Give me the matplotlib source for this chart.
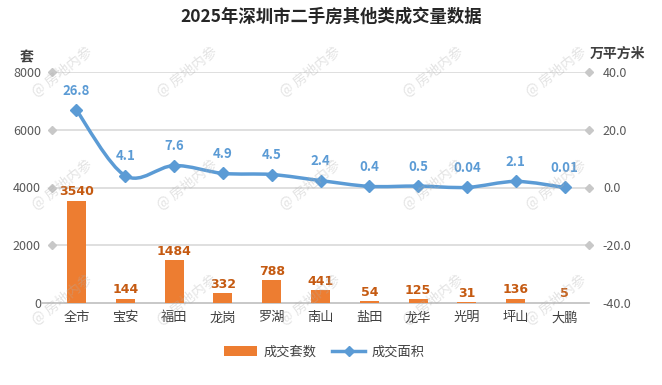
import numpy as np
import matplotlib.pyplot as plt
from matplotlib.path import Path
from matplotlib.patches import PathPatch
from matplotlib.lines import Line2D
from matplotlib.patches import Patch

plt.rcParams['font.family'] = ['Noto Sans CJK SC', 'DejaVu Sans']

districts = ['全市', '宝安', '福田', '龙岗', '罗湖', '南山', '盐田', '龙华', '光明', '坪山', '大鹏']
units = [3540, 144, 1484, 332, 788, 441, 54, 125, 31, 136, 5]
area = [26.8, 4.1, 7.6, 4.9, 4.5, 2.4, 0.4, 0.5, 0.04, 2.1, 0.01]
area_labels = ['26.8', '4.1', '7.6', '4.9', '4.5', '2.4', '0.4', '0.5', '0.04', '2.1', '0.01']
left_ticks = [0, 2000, 4000, 6000, 8000]
right_ticks = [-40, -20, 0, 20, 40]

bar_color = '#ED7D31'
bar_text = '#C55A11'
line_color = '#5B9BD5'
grid_color = '#D9D9D9'
tick_color = '#595959'

fig = plt.figure(figsize=(6.62, 3.85), dpi=100)
ax = fig.add_axes([52 / 662, 1 - 303 / 385, 537 / 662, 231 / 385])
ax2 = ax.twinx()

x = np.arange(len(districts))

# gridlines with diamond ends
for v in left_ticks[1:]:
    ax.axhline(v, color=grid_color, linewidth=1.2, zorder=0)
    ax.plot([-0.5, 10.5], [v, v], linestyle='none', marker='D', markersize=4.5,
            color='#C8C8C8', clip_on=False, zorder=1)
ax.axhline(0, color='#BFBFBF', linewidth=1.2, xmin=-0.018, xmax=1.0, clip_on=False, zorder=2)

ax.bar(x, units, width=0.39, color=bar_color, zorder=3)
for xi, u in zip(x, units):
    ax.text(xi, u + 90, str(u), ha='center', va='bottom', fontsize=9,
            fontweight='bold', color=bar_text, family=['Liberation Sans Narrow', 'DejaVu Sans'], zorder=5)

ax.set_xlim(-0.5, 10.5)
ax.set_ylim(0, 8000)
ax.set_yticks(left_ticks)
ax.set_yticklabels([str(v) for v in left_ticks])
ax.set_xticks(x)
ax.set_xticklabels(districts)
for s in ax.spines.values():
    s.set_visible(False)
for s in ax2.spines.values():
    s.set_visible(False)
ax.tick_params(axis='y', length=0, pad=8, labelsize=9, labelcolor=tick_color)
ax.tick_params(axis='x', length=0, pad=6, labelsize=9.5, labelcolor='#404040')

ax2.set_ylim(-40, 40)
ax2.set_yticks(right_ticks)
ax2.set_yticklabels(['%.1f' % v for v in right_ticks])
ax2.tick_params(axis='y', length=0, pad=10, labelsize=9, labelcolor=tick_color)

# smooth curve drawn through the data points (Catmull-Rom as cubic Bezier)
pts = np.column_stack([x, area]).astype(float)
verts = [tuple(pts[0])]
codes = [Path.MOVETO]
for i in range(len(pts) - 1):
    p0 = pts[i - 1] if i > 0 else pts[i]
    p1 = pts[i]
    p2 = pts[i + 1]
    p3 = pts[i + 2] if i + 2 < len(pts) else pts[i + 1]
    c1 = p1 + (p2 - p0) / 6
    c2 = p2 - (p3 - p1) / 6
    verts += [tuple(c1), tuple(c2), tuple(p2)]
    codes += [Path.CURVE4, Path.CURVE4, Path.CURVE4]
ax2.add_patch(PathPatch(Path(verts, codes), facecolor='none', edgecolor=line_color,
                        linewidth=2.5, zorder=4, capstyle='round'))
ax2.plot(x, area, linestyle='none', marker='D', markersize=6, color=line_color, zorder=5)
for xi, a, lab in zip(x, area, area_labels):
    ax2.annotate(lab, (xi, a), xytext=(0, 9), textcoords='offset points', ha='center',
                 va='bottom', fontsize=9.5, fontweight='bold', color=line_color, zorder=6)

fig.text(0.5, 1 - 17 / 385, '2025年深圳市二手房其他类成交量数据', ha='center', va='center',
         fontsize=12.5, fontweight='bold', color='#262626')
fig.text(27 / 662, 1 - 57 / 385, '套', ha='center', va='center', fontsize=10,
         fontweight='bold', color='#404040')
fig.text(617 / 662, 1 - 54 / 385, '万平方米', ha='center', va='center', fontsize=10,
         fontweight='bold', color='#404040')

# watermarks
for wy in [72, 185, 300]:
    for wx in [62, 187, 310, 433, 556]:
        fig.text(wx / 662, 1 - wy / 385, '@ 房地内参', rotation=38, ha='center', va='center',
                 fontsize=10, color='#B0B0B0', alpha=0.35, zorder=10)

handles = [Patch(facecolor=bar_color, edgecolor='none'),
           Line2D([0], [0], color=line_color, linewidth=2.5, marker='D', markersize=5)]
fig.legend(handles, ['成交套数', '成交面积'], loc='center', bbox_to_anchor=(0.49, 1 - 352 / 385),
           ncol=2, frameon=False, fontsize=9.5, handlelength=2.5, handleheight=0.8,
           columnspacing=1.2, handletextpad=0.5, labelcolor='#404040')

fig.savefig('out.png', dpi=100)
